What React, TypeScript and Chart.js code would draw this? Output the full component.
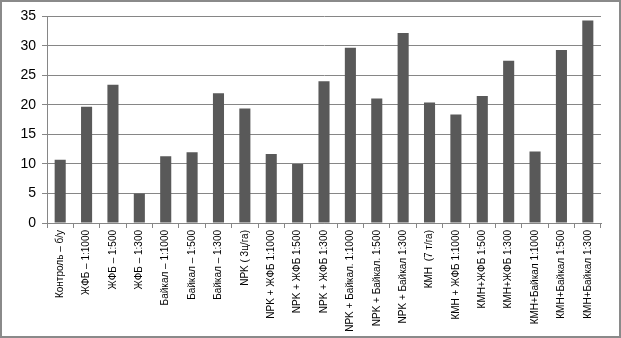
import React, { useEffect, useRef } from "react";
import { Chart, registerables } from "chart.js";

Chart.register(...registerables);

const categories = [
  "Контроль – б/у",
  "ЖФБ – 1:1000",
  "ЖФБ – 1:500",
  "ЖФБ – 1:300",
  "Байкал – 1:1000",
  "Байкал – 1:500",
  "Байкал – 1:300",
  "NPK ( 3ц/га)",
  "NPK + ЖФБ 1:1000",
  "NPK + ЖФБ 1:500",
  "NPK + ЖФБ 1:300",
  "NPK + Байкал. 1:1000",
  "NPK + Байкал. 1:500",
  "NPK + Байкал 1:300",
  "КМН  (7 т/га)",
  "КМН + ЖФБ 1:1000",
  "КМН+ЖФБ 1:500",
  "КМН+ЖФБ 1:300",
  "КМН+Байкал 1:1000",
  "КМН+Байкал 1:500",
  "КМН+Байкал 1:300",
];

const values = [
  10.7, 19.7, 23.4, 5.0, 11.3, 12.0, 22.0, 19.4, 11.7, 10.0, 24.0, 29.7, 21.1,
  32.2, 20.4, 18.4, 21.5, 27.5, 12.1, 29.3, 34.3,
];

const yMin = 0;
const yMax = 35;
const yStep = 5;

export default function App() {
  const ref = useRef<HTMLCanvasElement>(null);
  useEffect(() => {
    document.body.style.margin = "0";
    const ctx = ref.current!;
    const chart = new Chart(ctx, {
      type: "bar",
      data: {
        labels: categories,
        datasets: [
          {
            data: values,
            backgroundColor: "#595959",
            barPercentage: 0.42,
            categoryPercentage: 1,
          },
        ],
      },
      options: {
        animation: false,
        responsive: false,
        maintainAspectRatio: false,
        layout: { padding: { left: 4, right: 18, top: 14, bottom: 2 } },
        plugins: { legend: { display: false }, tooltip: { enabled: false } },
        scales: {
          x: {
            grid: {
              display: true,
              drawOnChartArea: false,
              drawTicks: true,
              tickLength: 5,
              color: "#868686",
              offset: true,
            },
            border: { color: "#868686" },
            ticks: {
              autoSkip: false,
              maxRotation: 90,
              minRotation: 90,
              color: "#000",
              padding: 2,
              font: { family: "Liberation Sans", size: 10 },
            },
            afterFit: (s: any) => {
              s.height = 111;
            },
          },
          y: {
            min: yMin,
            max: yMax,
            ticks: {
              stepSize: yStep,
              color: "#000",
              padding: 6,
              font: { family: "Liberation Sans", size: 14 },
            },
            grid: { color: "#868686", tickLength: 5 },
            border: { color: "#868686" },
            afterFit: (s: any) => {
              s.width = 41;
            },
          },
        },
      },
    });
    return () => chart.destroy();
  }, []);
  return (
    <div
      style={{
        position: "absolute",
        left: 0,
        top: 0,
        width: 621,
        height: 338,
        boxSizing: "border-box",
        border: "2px solid #8a8a8a",
        background: "#fff",
      }}
    >
      <canvas
        ref={ref}
        width={617}
        height={334}
        style={{ display: "block", width: 617, height: 334 }}
      />
    </div>
  );
}
